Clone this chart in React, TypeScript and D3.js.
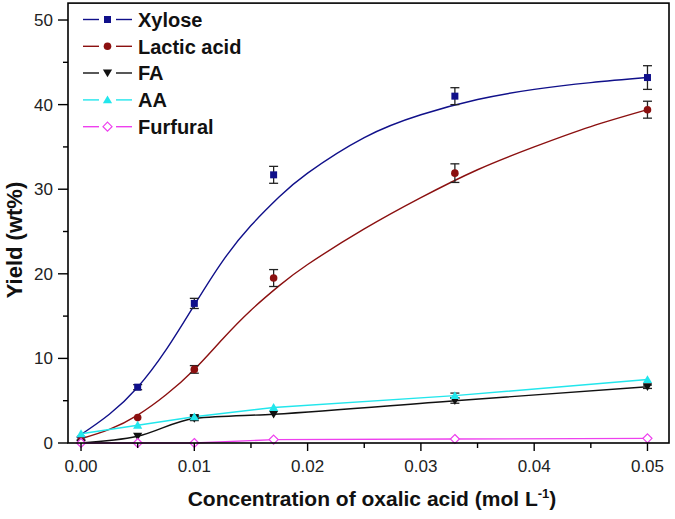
import React from "react";
import * as d3 from "d3";

// Measured concentrations (mol/L)
const conc = [0, 0.005, 0.01, 0.017, 0.033, 0.05];

// Yields (wt%)
const xyloseY = [0.5, 6.6, 16.5, 31.7, 41.0, 43.2];
const xyloseErr = [0.2, 0.3, 0.6, 1.0, 1.0, 1.4];
const lacticY = [0.3, 3.0, 8.7, 19.5, 31.9, 39.4];
const lacticErr = [0.1, 0.1, 0.45, 1.0, 1.1, 1.0];
const faY = [0.0, 0.8, 2.9, 3.4, 5.0, 6.65];
const faErr = [0, 0, 0.25, 0.1, 0.3, 0.2];
const aaY = [1.1, 2.1, 3.1, 4.2, 5.6, 7.5];
const aaErr = [0, 0, 0.25, 0.1, 0.3, 0.1];
const furfuralY = [0.0, 0.0, 0.0, 0.4, 0.47, 0.55];

// Fitted curves
const fitX = [0, 0.0025, 0.005, 0.0075, 0.01, 0.0125, 0.015, 0.0175, 0.02, 0.025, 0.03, 0.035, 0.04, 0.045, 0.05];
const xyloseFit = [1.0, 3.4, 6.6, 11.0, 16.3, 21.5, 25.7, 29.1, 31.9, 36.1, 38.8, 40.6, 41.8, 42.6, 43.2];
const lacticFit = [0.5, 1.6, 3.3, 5.7, 8.7, 12.3, 15.7, 18.6, 21.1, 25.3, 29.0, 32.3, 35.0, 37.4, 39.4];

const xTicks = [0, 0.01, 0.02, 0.03, 0.04, 0.05];
const xMinor = [0.005, 0.015, 0.025, 0.035, 0.045];
const yTicks = [0, 10, 20, 30, 40, 50];
const yMinor = [5, 15, 25, 35, 45];

const seriesNames = ["Xylose", "Lactic acid", "FA", "AA", "Furfural"];
const colors = ["#10108a", "#8b1010", "#111111", "#22e6ec", "#ee40ee"];

const W = 675;
const H = 519;
const FONT = "'Liberation Sans', Arial, sans-serif";

const x = d3.scaleLinear().domain([-0.00115, 0.0519]).range([68, 669]);
const y = d3.scaleLinear().domain([0, 52]).range([443, 3.1]);

function Marker({ kind, cx, cy, color }: { kind: number; cx: number; cy: number; color: string }) {
  if (kind === 0) {
    return <rect x={cx - 3.5} y={cy - 3.5} width={7} height={7} fill={color} />;
  }
  if (kind === 1) {
    return <circle cx={cx} cy={cy} r={3.8} fill={color} />;
  }
  if (kind === 2) {
    const s = 4.6;
    return <path d={`M${cx - s},${cy - s * 0.75}L${cx + s},${cy - s * 0.75}L${cx},${cy + s * 0.95}Z`} fill={color} />;
  }
  if (kind === 3) {
    const s = 4.6;
    return <path d={`M${cx - s},${cy + s * 0.75}L${cx + s},${cy + s * 0.75}L${cx},${cy - s * 0.95}Z`} fill={color} />;
  }
  const s = 4.5;
  return (
    <path
      d={`M${cx},${cy - s}L${cx + s},${cy}L${cx},${cy + s}L${cx - s},${cy}Z`}
      fill="#fff"
      stroke={color}
      strokeWidth={1.2}
    />
  );
}

export default function App() {
  const fitLine = d3
    .line<number>()
    .x((_, i) => x(fitX[i]))
    .y((v) => y(v))
    .curve(d3.curveNatural);
  const dataLineSmooth = d3
    .line<number>()
    .x((_, i) => x(conc[i]))
    .y((v) => y(v))
    .curve(d3.curveMonotoneX);
  const dataLine = d3
    .line<number>()
    .x((_, i) => x(conc[i]))
    .y((v) => y(v));

  const series = [
    { vals: xyloseY, err: xyloseErr },
    { vals: lacticY, err: lacticErr },
    { vals: faY, err: faErr },
    { vals: aaY, err: aaErr },
    { vals: furfuralY, err: null as number[] | null },
  ];

  const paths = [
    fitLine(xyloseFit),
    fitLine(lacticFit),
    dataLineSmooth(faY),
    dataLine(aaY),
    dataLine(furfuralY),
  ];

  const legendY = [19.5, 46.3, 73, 99.9, 126.7];

  return (
    <svg width={W} height={H} style={{ display: "block", position: "absolute", left: 0, top: 0 }}>
      <rect x={0} y={0} width={W} height={H} fill="#fff" />
      {/* Curves */}
      {paths.map((p, i) => (
        <path key={i} d={p || ""} fill="none" stroke={colors[i]} strokeWidth={1.4} />
      ))}
      {/* Error bars */}
      {series.map((s, si) =>
        s.err
          ? s.vals.map((v, i) => {
              const e = s.err![i];
              if (e < 0.15) return null;
              const cx = x(conc[i]);
              const y1 = y(v + e);
              const y2 = y(v - e);
              return (
                <g key={`e${si}-${i}`} stroke="#222" strokeWidth={1.3}>
                  <line x1={cx} x2={cx} y1={y1} y2={y2} />
                  <line x1={cx - 4.5} x2={cx + 4.5} y1={y1} y2={y1} />
                  <line x1={cx - 4.5} x2={cx + 4.5} y1={y2} y2={y2} />
                </g>
              );
            })
          : null
      )}
      {/* Markers */}
      {series.map((s, si) =>
        s.vals.map((v, i) => (
          <Marker key={`m${si}-${i}`} kind={si} cx={x(conc[i])} cy={y(v)} color={colors[si]} />
        ))
      )}
      {/* Frame */}
      <rect x={68} y={3.1} width={601} height={439.9} fill="none" stroke="#000" strokeWidth={1.6} />
      {/* X ticks */}
      {xTicks.map((t) => (
        <g key={`xt${t}`}>
          <line x1={x(t)} x2={x(t)} y1={443} y2={451} stroke="#000" strokeWidth={1.4} />
          <text
            x={x(t)}
            y={472}
            textAnchor="middle"
            fontFamily={FONT}
            fontSize={17}
            fill="#222"
          >
            {t.toFixed(2)}
          </text>
        </g>
      ))}
      {xMinor.map((t) => (
        <line key={`xm${t}`} x1={x(t)} x2={x(t)} y1={443} y2={448} stroke="#000" strokeWidth={1.4} />
      ))}
      {/* Y ticks */}
      {yTicks.map((t) => (
        <g key={`yt${t}`}>
          <line x1={58} x2={68} y1={y(t)} y2={y(t)} stroke="#000" strokeWidth={1.4} />
          <text
            x={53}
            y={y(t)}
            dy="0.35em"
            textAnchor="end"
            fontFamily={FONT}
            fontSize={17}
            fill="#222"
          >
            {t}
          </text>
        </g>
      ))}
      {yMinor.map((t) => (
        <line key={`ym${t}`} x1={63} x2={68} y1={y(t)} y2={y(t)} stroke="#000" strokeWidth={1.4} />
      ))}
      {/* Axis titles */}
      <text
        x={372}
        y={506}
        textAnchor="middle"
        fontFamily={FONT}
        fontWeight="bold"
        fontSize={21}
        fill="#111"
      >
        Concentration of oxalic acid (mol L
        <tspan fontSize={13} dy={-8}>-1</tspan>
        <tspan dy={8}>)</tspan>
      </text>
      <text
        transform="translate(22,240) rotate(-90)"
        textAnchor="middle"
        fontFamily={FONT}
        fontWeight="bold"
        fontSize={22}
        fill="#111"
      >
        Yield (wt%)
      </text>
      {/* Legend */}
      {seriesNames.map((n, i) => (
        <g key={`lg${n}`}>
          <line x1={83} x2={99} y1={legendY[i]} y2={legendY[i]} stroke={colors[i]} strokeWidth={1.4} />
          <line x1={116} x2={132} y1={legendY[i]} y2={legendY[i]} stroke={colors[i]} strokeWidth={1.4} />
          <Marker kind={i} cx={107.5} cy={legendY[i]} color={colors[i]} />
          <text
            x={138}
            y={legendY[i]}
            dy="0.36em"
            fontFamily={FONT}
            fontWeight="bold"
            fontSize={20}
            fill="#111"
          >
            {n}
          </text>
        </g>
      ))}
    </svg>
  );
}
